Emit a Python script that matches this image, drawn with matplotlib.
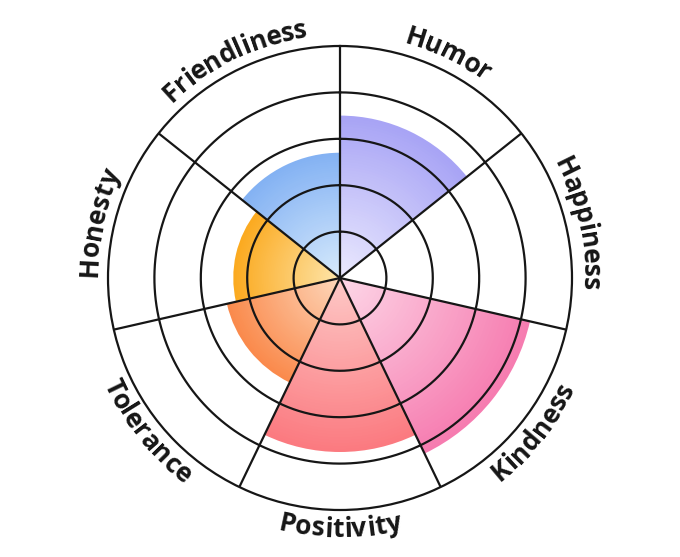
import numpy as np
import matplotlib
matplotlib.use("Agg")
import matplotlib.pyplot as plt
from matplotlib.colors import to_rgb
from matplotlib.font_manager import FontProperties

traits = ["Humor", "Happiness", "Kindness", "Positivity", "Tolerance", "Honesty", "Friendliness"]
scores = [3.5, 0, 4.2, 3.75, 2.5, 2.3, 2.7]
inner_colors = ["#ecebfe", "#ffffff", "#fdd8e8", "#fdcac8", "#fdd8bc", "#fde6ac", "#d8ebfc"]
outer_colors = ["#a8a4f5", "#ffffff", "#f67cb0", "#fb7a80", "#fa8a4c", "#fbaa20", "#84b2f3"]

ink = "#161616"
n = len(traits)
width = 2 * np.pi / n
centers = np.arange(n) * width + width / 2

fig = plt.figure(figsize=(6.8, 5.57), dpi=100)
R = 232  # outer ring radius in px
cx, cy = 340, 557 - 278
ax = fig.add_axes([(cx - R) / 680, (cy - R) / 557, 2 * R / 680, 2 * R / 557], projection="polar")
ax.set_theta_zero_location("N")
ax.set_theta_direction(-1)
ax.set_ylim(0, 5)
ax.set_xticks([])
ax.set_yticks([])
ax.grid(False)
ax.spines["polar"].set_linewidth(1.6)
ax.spines["polar"].set_color(ink)

# radial gradient: stack shrinking bars from dark (outer) to light (inner)
steps = 60
for c, v, ci, co in zip(centers, scores, inner_colors, outer_colors):
    if v <= 0:
        continue
    a = np.array(to_rgb(ci))
    b = np.array(to_rgb(co))
    for k in range(steps, 0, -1):
        t = k / steps
        ax.bar(c, v * t, width=width, bottom=0, color=a + (b - a) * t, linewidth=0, zorder=1)

th = np.linspace(0, 2 * np.pi, 600)
for r in range(1, 5):
    ax.plot(th, np.full_like(th, r), color=ink, lw=1.6, zorder=3)
for k in range(n):
    ax.plot([k * width] * 2, [0, 5], color=ink, lw=1.6, zorder=3, solid_capstyle="butt")

# curved labels around the outside
font = FontProperties(family="Open Sans", weight="bold", size=19)
renderer = fig.canvas.get_renderer()


def text_w(s):
    if not s:
        return 0.0
    return renderer.get_text_width_height_descent(s, font, ismath=False)[0]


def curved(label, phi_deg, upper):
    total = text_w(label)
    r_px = 243 if upper else 259
    r_mid = r_px + 7 if upper else r_px - 7
    for i, ch in enumerate(label):
        s = (text_w(label[:i]) + text_w(label[:i + 1])) / 2 - total / 2
        d = np.degrees(s / r_mid)
        phi = phi_deg + d if upper else phi_deg - d
        rot = -phi if upper else 180 - phi
        ax.text(np.radians(phi), r_px / R * 5, ch, rotation=rot, rotation_mode="anchor",
                ha="center", va="baseline", fontproperties=font, color=ink, clip_on=False)


for lab, c in zip(traits, centers):
    deg = np.degrees(c)
    curved(lab, deg, np.cos(c) > 0)

fig.savefig("out.png", dpi=100)
